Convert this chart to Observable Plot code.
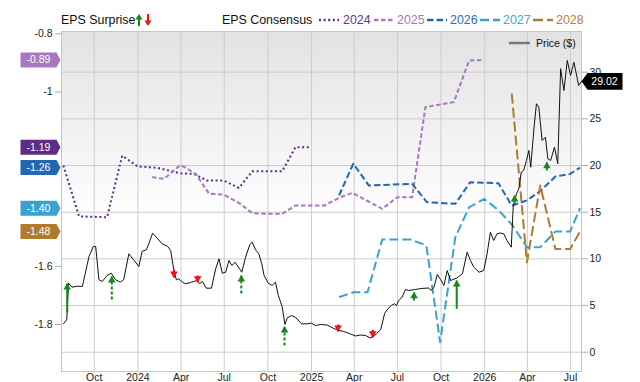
<!DOCTYPE html>
<html><head><meta charset="utf-8">
<script src="https://cdn.jsdelivr.net/npm/d3@7"></script>
<script src="https://cdn.jsdelivr.net/npm/@observablehq/plot@0.6"></script>
<style>
body{margin:0;background:#fff;font-family:"Liberation Sans",Arial,sans-serif;}
#wrap{position:relative;width:640px;height:382px;}
.lg{position:absolute;white-space:nowrap;font-size:12.4px;line-height:14px;}
.lg svg{display:block;}
</style></head><body><div id="wrap"></div>
<script>
// ---------- data ----------
const priceDates = ["2023-07-28","2023-08-04","2023-08-08","2023-08-15","2023-08-26","2023-09-06","2023-09-20","2023-09-29","2023-10-04","2023-10-11","2023-10-18","2023-10-28","2023-11-06","2023-11-15","2023-11-25","2023-12-02","2023-12-13","2023-12-23","2024-01-03","2024-01-10","2024-01-19","2024-01-24","2024-02-01","2024-02-12","2024-02-21","2024-03-04","2024-03-10","2024-03-17","2024-03-22","2024-03-27","2024-04-04","2024-04-10","2024-04-21","2024-04-28","2024-05-06","2024-05-10","2024-05-16","2024-05-24","2024-06-04","2024-06-13","2024-06-20","2024-06-27","2024-07-04","2024-07-11","2024-07-17","2024-07-24","2024-07-31","2024-08-07","2024-08-15","2024-08-24","2024-08-29","2024-09-05","2024-09-12","2024-09-18","2024-09-23","2024-10-02","2024-10-10","2024-10-17","2024-10-23","2024-10-31","2024-11-06","2024-11-11","2024-11-20","2024-11-28","2024-12-11","2024-12-23","2025-01-01","2025-01-09","2025-01-20","2025-02-03","2025-02-17","2025-02-27","2025-03-10","2025-03-24","2025-04-04","2025-04-14","2025-04-25","2025-05-05","2025-05-12","2025-05-18","2025-05-27","2025-06-04","2025-06-11","2025-06-18","2025-06-25","2025-06-29","2025-07-04","2025-07-11","2025-07-18","2025-07-25","2025-08-08","2025-08-22","2025-09-05","2025-09-10","2025-09-16","2025-09-23","2025-09-30","2025-10-07","2025-10-14","2025-10-21","2025-11-04","2025-11-15","2025-11-25","2025-12-02","2025-12-09","2025-12-20","2025-12-30","2026-01-06","2026-01-13","2026-01-20","2026-01-27","2026-02-03","2026-02-10","2026-02-17","2026-02-26","2026-03-02","2026-03-09","2026-03-14","2026-03-19","2026-03-24","2026-03-30","2026-04-04","2026-04-08","2026-04-15","2026-04-20","2026-04-25","2026-05-02","2026-05-09","2026-05-14","2026-05-20","2026-05-28","2026-06-04","2026-06-10","2026-06-17","2026-06-24","2026-07-01","2026-07-08","2026-07-18","2026-07-24"];
const priceValues = [3.04,3.47,7.39,6.96,7.07,7.04,10.25,11.33,11.33,7.76,7.58,8.22,8.46,7.76,7.50,7.76,10.54,9.90,9.18,10.82,10.97,11.62,12.75,12.15,11.62,11.33,10.90,8.75,7.76,7.86,7.50,7.33,7.47,7.58,7.68,7.33,7.58,6.86,6.86,8.94,10.01,8.46,8.57,9.83,9.29,9.64,9.11,8.57,10.18,11.54,11.79,10.97,10.54,9.47,8.22,7.39,7.15,7.50,6.08,4.90,2.97,3.69,3.93,3.75,3.04,3.04,3.11,2.86,2.97,2.91,2.54,2.33,2.22,1.95,1.74,1.84,1.79,1.52,1.68,2.00,2.43,4.15,4.65,5.00,5.19,5.00,5.54,5.91,6.72,6.61,6.72,6.83,6.88,6.61,6.96,8.33,7.79,7.15,8.75,7.68,7.97,8.40,10.72,9.83,9.11,8.57,8.75,10.54,12.86,11.97,12.69,12.77,12.69,11.97,11.25,15.54,16.97,17.51,19.29,19.47,20.54,21.61,19.82,24.11,26.62,26.25,22.68,23.04,20.72,20.54,21.97,20.19,30.37,28.04,31.26,29.65,31.07,28.58,29.02];

const eps2024Dates = ["2023-07-28","2023-08-30","2023-10-28","2023-11-29","2023-12-31","2024-02-11","2024-03-31","2024-04-28","2024-05-26","2024-06-30","2024-08-01","2024-08-29","2024-10-31","2024-11-28","2024-12-27"];
const eps2024 = [-1.253,-1.428,-1.431,-1.219,-1.256,-1.261,-1.280,-1.282,-1.305,-1.305,-1.330,-1.273,-1.273,-1.19,-1.19];
const eps2025Dates = ["2024-01-31","2024-02-25","2024-03-31","2024-05-02","2024-05-30","2024-06-30","2024-08-04","2024-08-29","2024-09-30","2024-10-31","2024-11-28","2025-01-28","2025-03-03","2025-03-28","2025-05-30","2025-07-01","2025-08-01","2025-08-29","2025-10-28","2025-11-29","2025-12-27"];
const eps2025 = [-1.293,-1.299,-1.251,-1.282,-1.350,-1.353,-1.385,-1.417,-1.419,-1.419,-1.391,-1.391,-1.362,-1.347,-1.402,-1.362,-1.362,-1.052,-1.035,-0.892,-0.89];
const eps2026Dates = ["2025-02-28","2025-03-30","2025-05-02","2025-08-01","2025-09-01","2025-10-31","2025-12-01","2026-01-30","2026-02-27","2026-03-31","2026-04-28","2026-05-30","2026-06-30","2026-07-21"];
const eps2026 = [-1.356,-1.247,-1.322,-1.316,-1.379,-1.385,-1.311,-1.314,-1.391,-1.373,-1.341,-1.291,-1.282,-1.26];
const eps2027Dates = ["2025-02-28","2025-03-31","2025-04-29","2025-05-30","2025-07-29","2025-08-31","2025-09-29","2025-10-31","2025-11-29","2025-12-31","2026-01-31","2026-02-28","2026-03-31","2026-04-28","2026-05-30","2026-06-30","2026-07-21"];
const eps2027 = [-1.706,-1.689,-1.689,-1.508,-1.508,-1.528,-1.861,-1.500,-1.397,-1.368,-1.408,-1.458,-1.534,-1.534,-1.480,-1.480,-1.40];
const eps2028Dates = ["2026-02-27","2026-03-31","2026-04-28","2026-05-30","2026-06-30","2026-07-21"];
const eps2028 = [-1.006,-1.586,-1.322,-1.540,-1.540,-1.48];

const surpriseDates = ["2023-08-05","2023-11-07","2024-03-17","2024-05-06","2024-08-06","2024-11-05","2025-02-26","2025-05-10","2025-08-05","2025-11-03","2026-03-05","2026-05-12"];
const surpriseDir = ["up","up","down","down","up","up","down","down","up","up","up","up"];
const surpriseFrom = [4.25,5.65,8.86,8.22,6.29,0.72,2.97,2.40,5.54,4.65,15.90,19.47];
const surpriseTo = [7.36,8.11,8.00,7.50,8.22,2.75,2.22,1.61,6.43,7.68,16.79,20.36];

const quarterTicks = ["2023-10-01","2024-01-01","2024-04-01","2024-07-01","2024-10-01","2025-01-01","2025-04-01","2025-07-01","2025-10-01","2026-01-01","2026-04-01","2026-07-01"];
const quarterLabels = ["Oct","2024","Apr","Jul","Oct","2025","Apr","Jul","Oct","2026","Apr","Jul"];
const leftTicks = [-1.8,-1.6,-1,-0.8];
const rightTicks = [0,5,10,15,20,25,30];
const seriesNames = ["2024","2025","2026","2027","2028"];

// ---------- config ----------
const parse = d3.utcParse("%Y-%m-%d");
const xDomain = [parse("2023-07-24"), parse("2026-07-24")];
const yDomain = [-1.9617, -0.792];
const priceDomain = [-2.068, 34.36];
const toEps = d3.scaleLinear().domain(priceDomain).range(yDomain);
const colors = {"2024":"#5c2d84","2025":"#a678bd","2026":"#2267b2","2027":"#3ba1cd","2028":"#b07b2f"};
const textColors = {"2024":"#5c3a8a","2025":"#a07bb6","2026":"#2d6cb4","2027":"#47a5d1","2028":"#b0803d"};
const dashes = {"2024":"2,2.6","2025":"4.5,2.5","2026":"6.5,3","2027":"9,4","2028":"10,4"};
const GREEN = "#16881a", RED = "#f01010";

const ser = (ds, vs) => ds.map((d, i) => ({date: parse(d), value: vs[i]}));
const epsSeries = {
  "2024": ser(eps2024Dates, eps2024),
  "2025": ser(eps2025Dates, eps2025),
  "2026": ser(eps2026Dates, eps2026),
  "2027": ser(eps2027Dates, eps2027),
  "2028": ser(eps2028Dates, eps2028)
};
const price = priceDates.map((d, i) => ({date: parse(d), price: priceValues[i]}));
const surprises = surpriseDates.map((d, i) => ({date: parse(d), dir: surpriseDir[i], from: surpriseFrom[i], to: surpriseTo[i]}));
const bigMove = d => Math.abs(d.to - d.from) > 2.8;
const qLabel = new Map(quarterTicks.map((d, i) => [+parse(d), quarterLabels[i]]));

const badgeLeft = {draw(c){c.moveTo(-20,-7.5);c.lineTo(16,-7.5);c.lineTo(20,0);c.lineTo(16,7.5);c.lineTo(-20,7.5);c.closePath();}};
const badgeRight = {draw(c){c.moveTo(-21,0);c.lineTo(-15,-8.3);c.lineTo(20,-8.3);c.lineTo(20,8.3);c.lineTo(-15,8.3);c.closePath();}};
const headUp = {draw(c){c.moveTo(0,-0.5);c.lineTo(3.8,6);c.lineTo(-3.8,6);c.closePath();}};
const headDown = {draw(c){c.moveTo(0,0.5);c.lineTo(3.8,-6);c.lineTo(-3.8,-6);c.closePath();}};

const defs = () => {
  const g = d3.create("svg:defs");
  const lg = g.append("linearGradient").attr("id","bgGrad").attr("x1",0).attr("y1",0).attr("x2",0).attr("y2",1);
  lg.append("stop").attr("offset","0%").attr("stop-color","#e2e2e2");
  lg.append("stop").attr("offset","55%").attr("stop-color","#ffffff");
  lg.append("stop").attr("offset","100%").attr("stop-color","#ffffff");
  return g.node();
};

const arrowColor = d => d.dir === "up" ? GREEN : RED;
const marks = [
  defs,
  Plot.frame({fill: "url(#bgGrad)"}),
  Plot.gridX(quarterTicks.map(parse), {stroke: "#cccccc", strokeOpacity: 1}),
  Plot.gridY(rightTicks.map(toEps), {stroke: "#cccccc", strokeOpacity: 1}),
  Plot.frame({stroke: "#c6c6c6"})
];
for (const k of seriesNames) {
  marks.push(Plot.line(epsSeries[k], {x: "date", y: "value", stroke: colors[k], strokeWidth: 2, strokeDasharray: dashes[k], strokeLinecap: "butt"}));
}
marks.push(
  Plot.line(price, {x: "date", y: d => toEps(d.price), stroke: "#111", strokeWidth: 1}),
  Plot.link(surprises.filter(d => !bigMove(d)), {x1: "date", x2: "date", y1: d => toEps(d.from), y2: d => toEps(d.to),
    stroke: arrowColor, strokeWidth: 2, strokeDasharray: "3,2"}),
  Plot.link(surprises.filter(bigMove), {x1: "date", x2: "date", y1: d => toEps(d.from), y2: d => toEps(d.to),
    stroke: arrowColor, strokeWidth: 2}),
  Plot.dot(surprises.filter(d => d.dir === "up"), {x: "date", y: d => toEps(d.to), symbol: headUp, fill: GREEN, stroke: "none"}),
  Plot.dot(surprises.filter(d => d.dir === "down"), {x: "date", y: d => toEps(d.to), symbol: headDown, fill: RED, stroke: "none"}),
  Plot.axisX(quarterTicks.map(parse), {tickSize: 0, tickPadding: 2, tickFormat: d => qLabel.get(+d), label: null, fill: "#222", fontSize: 10.5}),
  Plot.axisY(leftTicks, {anchor: "left", tickSize: 6, tickPadding: 3, tickFormat: d => String(d), label: null, stroke: "#aaaaaa", fill: "#222", fontSize: 10.5}),
  Plot.axisY(rightTicks.map(toEps), {anchor: "right", tickSize: 6, tickPadding: 2, tickFormat: d => String(Math.round(toEps.invert(d))), label: null, stroke: "#aaaaaa", fill: "#222", fontSize: 10.5})
);
for (const k of seriesNames) {
  const last = epsSeries[k][epsSeries[k].length - 1].value;
  marks.push(
    Plot.dot([last], {y: d => d, frameAnchor: "left", dx: -21, symbol: badgeLeft, fill: colors[k], stroke: "none"}),
    Plot.text([last], {y: d => d, frameAnchor: "left", dx: -23, text: d => d.toFixed(2), fill: "white", fontSize: 10.5, textAnchor: "middle"})
  );
}
const lastPrice = price[price.length - 1].price;
marks.push(
  Plot.dot([lastPrice], {y: d => toEps(d), frameAnchor: "right", dx: 21, symbol: badgeRight, fill: "#000", stroke: "none"}),
  Plot.text([lastPrice], {y: d => toEps(d), frameAnchor: "right", dx: 23, text: d => d.toFixed(2), fill: "white", fontSize: 10.5, textAnchor: "middle"})
);

const chart = Plot.plot({
  width: 640, height: 382,
  marginLeft: 61, marginRight: 59, marginTop: 31, marginBottom: 11,
  x: {type: "utc", domain: xDomain},
  y: {domain: yDomain},
  style: {fontFamily: "'Liberation Sans', Arial, sans-serif", fontSize: "10.5px", background: "transparent", overflow: "visible"},
  marks
});
const wrap = document.getElementById("wrap");
wrap.appendChild(chart);

// ---------- legends (HTML overlay) ----------
function add(html, left, top) {
  const el = document.createElement("div");
  el.className = "lg"; el.style.left = left + "px"; el.style.top = top + "px";
  el.innerHTML = html; wrap.appendChild(el); return el;
}
add('<span style="color:#111">EPS Surprise</span>', 61, 13);
add(`<svg width="18" height="14"><line x1="4" x2="4" y1="13" y2="5" stroke="${GREEN}" stroke-width="2"/><path d="M4,1 L7.5,6.5 L0.5,6.5Z" fill="${GREEN}"/><line x1="13" x2="13" y1="1" y2="9" stroke="${RED}" stroke-width="2"/><path d="M13,13 L16.5,7.5 L9.5,7.5Z" fill="${RED}"/></svg>`, 135, 13);
add('<span style="color:#111">EPS Consensus</span>', 222, 13);
const legX = {"2024":[319,343],"2025":[374,397],"2026":[427,450],"2027":[480,503],"2028":[533,556]};
for (const k of seriesNames) {
  add(`<svg width="20" height="14"><line x1="0" x2="20" y1="7" y2="7" stroke="${colors[k]}" stroke-width="2.5" stroke-dasharray="${dashes[k]}"/></svg>`, legX[k][0], 13);
  add(`<span style="color:${textColors[k]}">${k}</span>`, legX[k][1], 13);
}
add('<svg width="22" height="14"><line x1="0" x2="21" y1="7" y2="7" stroke="#777" stroke-width="2.5"/></svg>', 509, 36);
add('<span style="color:#111;font-size:10.5px">Price ($)</span>', 536, 36);
</script></body></html>
